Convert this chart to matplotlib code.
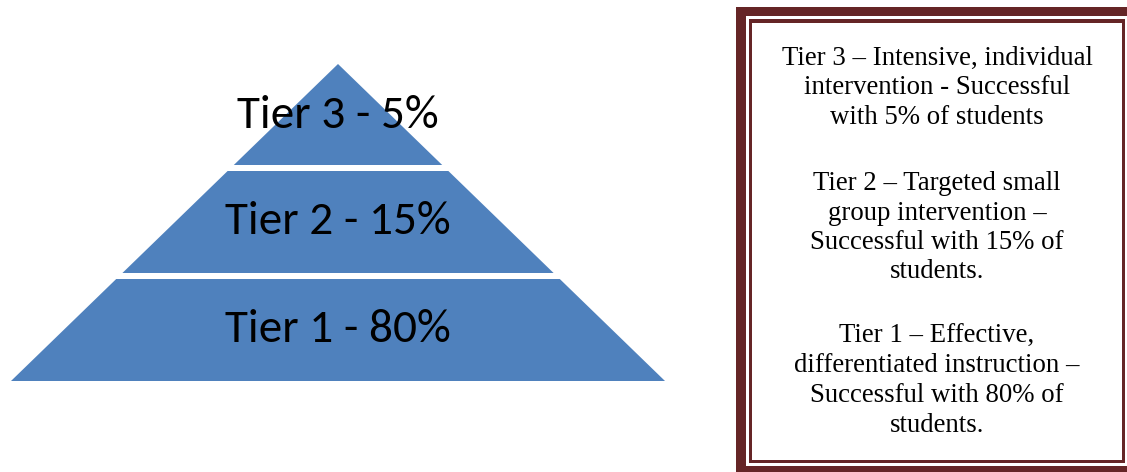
import matplotlib
matplotlib.use("Agg")
import matplotlib.pyplot as plt
from matplotlib.patches import Polygon, Rectangle

# ---- data ----
tier_labels = ["Tier 3 - 5%", "Tier 2 - 15%", "Tier 1 - 80%"]
tier_shares = [5, 15, 80]
descriptions = [
    "Tier 3 \u2013 Intensive, individual\nintervention - Successful\nwith 5% of students",
    "Tier 2 \u2013 Targeted small\ngroup intervention \u2013\nSuccessful with 15% of\nstudents.",
    "Tier 1 \u2013 Effective,\ndifferentiated instruction \u2013\nSuccessful with 80% of\nstudents.",
]

W, H = 1127, 472
fig = plt.figure(figsize=(W / 100, H / 100), dpi=100)
ax = fig.add_axes([0, 0, 1, 1])
ax.set_xlim(0, W)
ax.set_ylim(H, 0)
ax.axis("off")

BLUE = "#4F81BD"
MAROON = "#652526"

# pyramid geometry (pixel layout)
apex_x, apex_y = 338, 64
base_y, base_left = 381, 11
slope = (apex_x - base_left) / (base_y - apex_y)
bands = [(64, 165), (171, 273), (279, 381)]  # top/bottom of each tier band

def half_width(y):
    return (y - apex_y) * slope

for (y0, y1), label in zip(bands, tier_labels):
    h0, h1 = half_width(y0), half_width(y1)
    pts = [(apex_x - h0, y0), (apex_x + h0, y0), (apex_x + h1, y1), (apex_x - h1, y1)]
    ax.add_patch(Polygon(pts, closed=True, facecolor=BLUE, edgecolor="none"))

text_y = [116, 222, 329]
for label, ty in zip(tier_labels, text_y):
    ax.text(apex_x, ty, label, ha="center", va="center", fontsize=34,
            family=["Carlito", "Lato", "DejaVu Sans"], color="black")

# framed box
ax.add_patch(Rectangle((736, 7), 420, 480, facecolor=MAROON, edgecolor="none"))
ax.add_patch(Rectangle((746, 16), 382, 450, facecolor="white", edgecolor="none"))
ax.add_patch(Rectangle((748.5, 19), 376.5, 444, facecolor=MAROON, edgecolor="none"))
ax.add_patch(Rectangle((751.5, 22.5), 370.5, 437.5, facecolor="white", edgecolor="none"))

first_baseline = [65, 190, 343]
line_step = 29.5
for txt, b0 in zip(descriptions, first_baseline):
    for i, line in enumerate(txt.split("\n")):
        ax.text(937, b0 + i * line_step, line, ha="center", va="baseline",
                fontsize=19.3, family=["Liberation Serif", "DejaVu Serif"],
                color="black")

fig.savefig("out.png", dpi=100)
